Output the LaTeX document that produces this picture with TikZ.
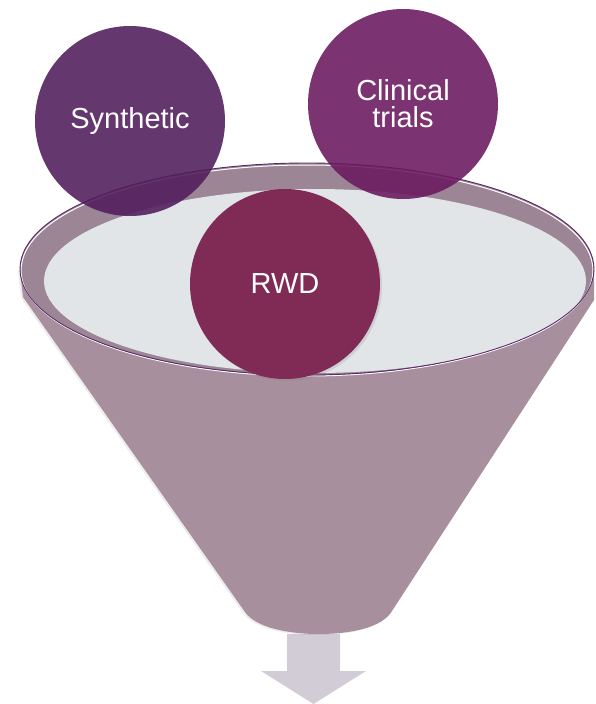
\documentclass[tikz,border=0pt]{standalone}
\usepackage{fontspec}
\setmainfont{Liberation Sans}
\usepackage{tikz}
\usetikzlibrary{shadows}
\definecolor{synthpurple}{RGB}{82,30,93}
\definecolor{trialpurple}{RGB}{107,26,96}
\definecolor{rwdred}{RGB}{127,43,85}
\definecolor{funnelbody}{RGB}{168,143,157}
\definecolor{funnelrim}{RGB}{156,133,148}
\definecolor{funnelmouth}{RGB}{225,229,232}
\definecolor{rimline}{RGB}{90,42,106}
\definecolor{outflow}{RGB}{210,204,214}
\tikzstyle{source} = [circle, minimum size=190pt, inner sep=0pt, text=white, align=center, font=\fontsize{29}{27}\selectfont]
\tikzstyle{seethrough} = [fill opacity=0.89, text opacity=1]

\begin{document}
\begin{tikzpicture}[x=1pt, y=-1pt]
                \useasboundingbox (0,0) rectangle (595,704);

                % Funnel
                \fill [outflow] (287,634) -- (340,634) -- (340,671) -- (366,671) -- (313.5,704) -- (261,671) -- (287,671) -- cycle;
                \fill [funnelbody, drop shadow={opacity=0.15, shadow xshift=-2pt, shadow yshift=-1pt}] (20,270) -- (23,297) -- (245,612) .. controls (256,628) and (290,634) .. (318,634) .. controls (350,634) and (382,628) .. (392,611) -- (594,300) -- (594,270) -- cycle;
                \fill [funnelrim] (307,269) ellipse [x radius=287, y radius=106];
                \fill [funnelmouth] (315,281) ellipse [x radius=271, y radius=92];
                \draw [white, line width=1pt] (307,270.5) ellipse [x radius=286, y radius=105.5];
                \draw [rimline, line width=0.9pt] (307,269) ellipse [x radius=287, y radius=106];

                % Nodes
                \node (synthetic) [source, seethrough, fill=synthpurple] at (130,121) {Synthetic};
                \node (trials) [source, seethrough, fill=trialpurple] at (403,104) {Clinical\\trials};
                \node (rwd) [source, fill=rwdred, drop shadow={opacity=0.2, shadow xshift=2pt, shadow yshift=-2pt}] at (285,284) {RWD};
            \end{tikzpicture}
\end{document}
